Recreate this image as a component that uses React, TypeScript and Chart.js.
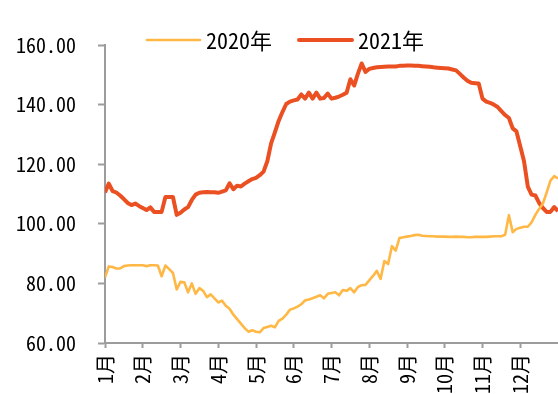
import { useEffect, useRef } from 'react';
import { Chart, registerables } from 'chart.js';

Chart.register(...registerables);

// Month tick labels; the series are sampled 10 times per month (Jan 1 .. Dec 31).
const monthLabels = ['1月', '2月', '3月', '4月', '5月', '6月', '7月', '8月', '9月', '10月', '11月', '12月'];
const SAMPLES_PER_MONTH = 10;

const seriesNames = ['2020年', '2021年'];

const values2020 = [
  82, 85.7, 85.5, 85, 85, 85.8, 86, 86.1, 86.1, 86.1,
  86.1, 85.8, 86.1, 86.1, 86, 82.4, 86, 84.8, 83.5, 78,
  80.5, 80.4, 77, 80, 76.5, 78.4, 77.5, 75.4, 76.3, 75,
  73.6, 74.2, 72.5, 71.5, 69.5, 68, 66.5, 65, 63.8, 64.3,
  63.8, 63.6, 65, 65.4, 65.8, 65.3, 67.4, 68.2, 69.5, 71.2,
  71.6, 72.2, 73, 74.3, 74.6, 75, 75.5, 76, 75, 76.5,
  76.8, 77, 76, 77.8, 77.5, 78.4, 77, 78.8, 79.4, 79.5,
  81, 82.5, 84.2, 81.5, 87.5, 86.5, 92.5, 91, 95.2, 95.5,
  95.7, 95.9, 96.2, 96.3, 96, 95.9, 95.8, 95.8, 95.7, 95.7,
  95.7, 95.6, 95.6, 95.7, 95.6, 95.6, 95.5, 95.5, 95.6, 95.6,
  95.6, 95.6, 95.7, 95.8, 95.8, 95.8, 96.3, 102.9, 97.2, 98.3,
  98.7, 99, 99, 100.5, 103, 105, 106.8, 110.5, 114.5, 116, 115.2,
];

const values2021 = [
  110.5, 113.5, 111, 110.5, 109.5, 108.3, 107, 106.3, 106.8, 106,
  105.3, 104.6, 105.5, 104, 104, 104, 109, 109, 109, 103,
  103.7, 104.8, 105.6, 108, 109.8, 110.4, 110.6, 110.7, 110.6, 110.6,
  110.4, 110.8, 111.2, 113.6, 111.6, 112.8, 112.5, 113.5, 114.3, 115,
  115.4, 116.3, 117.5, 121, 127, 130.7, 134.5, 137.5, 140.2, 141,
  141.4, 141.7, 143.4, 142, 144, 142, 144, 142, 142.2, 143.7,
  142, 142.3, 142.7, 143.3, 144, 148.5, 146.4, 150.4, 153.8, 151,
  152, 152.3, 152.5, 152.6, 152.7, 152.8, 152.8, 152.8, 153, 153,
  153.1, 153.1, 153, 153, 152.9, 152.8, 152.7, 152.5, 152.4, 152.3,
  152.2, 152.1, 151.8, 151.5, 150.3, 149.1, 148, 147.3, 147.2, 147.1,
  142, 141, 140.6, 140, 139.2, 137.8, 136.5, 135.5, 132, 131,
  126, 121, 112.5, 109.8, 109.5, 107, 105.3, 104, 104, 105.6, 104.3,
];

const yMin = 60;
const yMax = 160;
const yStep = 20;

const FONT = "'Noto Sans Mono CJK SC', 'DejaVu Sans Mono', 'Noto Sans CJK SC', monospace";
const AXIS_GRAY = '#9C9C9C';

// Legend drawn as line samples followed by the series name, placed inside the top margin.
const lineLegend = {
  id: 'lineLegend',
  afterDraw(chart: any, _args: any, opts: any) {
    const { ctx } = chart;
    ctx.save();
    ctx.font = `${opts.fontSize}px ${FONT}`;
    ctx.textBaseline = 'middle';
    ctx.textAlign = 'left';
    let x = opts.x;
    chart.data.datasets.forEach((ds: any) => {
      ctx.strokeStyle = ds.borderColor;
      ctx.lineWidth = ds.borderWidth;
      ctx.lineCap = 'round';
      ctx.beginPath();
      ctx.moveTo(x, opts.y);
      ctx.lineTo(x + opts.lineLength, opts.y);
      ctx.stroke();
      x += opts.lineLength + opts.textGap;
      ctx.fillStyle = '#000';
      ctx.fillText(ds.label, x, opts.y + 1);
      x += ctx.measureText(ds.label).width + opts.itemGap;
    });
    ctx.restore();
  },
};

const toPoints = (values: number[]) => values.map((y, i) => ({ x: i, y }));

export default function App() {
  const canvasRef = useRef<HTMLCanvasElement>(null);

  useEffect(() => {
    const canvas = canvasRef.current;
    if (!canvas) return;
    const xMax = monthLabels.length * SAMPLES_PER_MONTH;

    const chart = new Chart(canvas, {
      type: 'line',
      data: {
        datasets: [
          {
            label: seriesNames[0],
            data: toPoints(values2020),
            borderColor: '#FFB845',
            borderWidth: 2.6,
            pointRadius: 0,
            tension: 0,
            borderJoinStyle: 'round',
          },
          {
            label: seriesNames[1],
            data: toPoints(values2021),
            borderColor: '#EB5022',
            borderWidth: 4,
            pointRadius: 0,
            tension: 0,
            borderJoinStyle: 'round',
          },
        ],
      },
      options: {
        animation: false,
        responsive: true,
        maintainAspectRatio: false,
        layout: { padding: { top: 45, left: 0, right: 0, bottom: 0 } },
        plugins: {
          legend: { display: false },
          tooltip: { enabled: false },
          lineLegend: { x: 147, y: 40, lineLength: 53, textGap: 6, itemGap: 27, fontSize: 22 },
        } as any,
        scales: {
          x: {
            type: 'linear',
            min: 0,
            max: xMax,
            afterBuildTicks: (scale: any) => {
              scale.ticks = scale.ticks.filter((t: any) => t.value < xMax);
            },
            afterFit: (scale: any) => {
              scale.height = 51;
            },
            border: { display: true, color: AXIS_GRAY, width: 2 },
            grid: {
              drawOnChartArea: false,
              drawTicks: true,
              tickLength: 5,
              tickColor: AXIS_GRAY,
              tickWidth: 2,
            },
            ticks: {
              stepSize: SAMPLES_PER_MONTH,
              autoSkip: false,
              maxRotation: 90,
              minRotation: 90,
              padding: 6,
              color: '#000',
              font: { family: FONT, size: 20 },
              callback: (v: any) => monthLabels[Math.round(Number(v) / SAMPLES_PER_MONTH)] ?? '',
            },
          },
          y: {
            min: yMin,
            max: yMax,
            afterFit: (scale: any) => {
              scale.width = 105;
            },
            border: { display: true, color: AXIS_GRAY, width: 2 },
            grid: {
              drawOnChartArea: false,
              drawTicks: true,
              tickLength: 7,
              tickColor: AXIS_GRAY,
              tickWidth: 2,
            },
            ticks: {
              stepSize: yStep,
              padding: 22,
              color: '#000',
              font: { family: FONT, size: 20 },
              callback: (v: any) => Number(v).toFixed(2),
            },
          },
        },
      },
      plugins: [lineLegend],
    });

    return () => chart.destroy();
  }, []);

  return (
    <div style={{ position: 'absolute', left: 0, top: 0, width: 558, height: 394 }}>
      <canvas ref={canvasRef} />
    </div>
  );
}
